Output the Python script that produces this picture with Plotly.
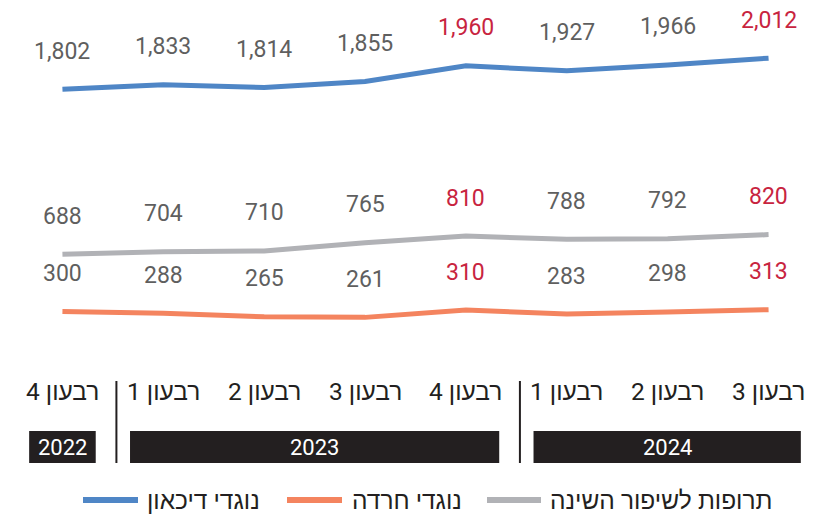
import plotly.graph_objects as go

quarters = ["רבעון 4", "רבעון 1", "רבעון 2", "רבעון 3", "רבעון 4", "רבעון 1", "רבעון 2", "רבעון 3"]
years = ["2022", "2023", "2023", "2023", "2023", "2024", "2024", "2024"]
antidepressants = [1802, 1833, 1814, 1855, 1960, 1927, 1966, 2012]
anxiolytics = [300, 288, 265, 261, 310, 283, 298, 313]
sleep_meds = [688, 704, 710, 765, 810, 788, 792, 820]
highlight = [False, False, False, False, True, False, False, True]

series = [
    ("נוגדי דיכאון", antidepressants, "#4f86c6"),
    ("נוגדי חרדה", anxiolytics, "#f4845f"),
    ("תרופות לשיפור השינה", sleep_meds, "#b1b2b6"),
]

FONT = "Roboto, Noto Sans, sans-serif"
GRAY_TXT = "#5f5f5f"
RED_TXT = "#c8243f"
DARK = "#231f20"

x = list(range(len(quarters)))
fig = go.Figure()
annotations = []
for name, vals, color in series:
    fig.add_trace(go.Scatter(x=x, y=vals, mode="lines", name=name,
                             line=dict(color=color, width=5), showlegend=False,
                             hoverinfo="skip"))
    for xi, v, h in zip(x, vals, highlight):
        annotations.append(dict(x=xi, y=v, xref="x", yref="y", text=f"{v:,}",
                                showarrow=False, yshift=38,
                                font=dict(family=FONT, size=23, color=RED_TXT if h else GRAY_TXT)))

# quarter labels
for xi, q in zip(x, quarters):
    annotations.append(dict(x=xi, y=(356 - 391) / 356, xref="x", yref="paper", text=q, showarrow=False,
                            font=dict(family=FONT, size=24.5, color=DARK), yanchor="middle"))

shapes = []
# year boxes
year_groups = []
for i, yv in enumerate(years):
    if not year_groups or year_groups[-1][0] != yv:
        year_groups.append([yv, i, i])
    else:
        year_groups[-1][2] = i
box_y0, box_y1 = (356 - 463) / 356, (356 - 431) / 356
for yv, i0, i1 in year_groups:
    x0, x1 = i0 - 0.33, i1 + 0.33
    if yv == "2024":
        x1 = i1 + 0.32
    shapes.append(dict(type="rect", xref="x", yref="paper", x0=x0, x1=x1, y0=box_y0, y1=box_y1,
                       fillcolor=DARK, line=dict(width=0)))
    annotations.append(dict(x=(x0 + x1) / 2, y=(box_y0 + box_y1) / 2, xref="x", yref="paper",
                            text=yv, showarrow=False, yanchor="middle",
                            font=dict(family=FONT, size=22, color="white")))
# separators
for k in range(1, len(year_groups)):
    sx = year_groups[k][1] - 0.465
    shapes.append(dict(type="line", xref="x", yref="paper", x0=sx, x1=sx,
                       y0=(356 - 463) / 356, y1=(356 - 381) / 356,
                       line=dict(color=DARK, width=2)))

# legend (manual)
leg_y = (356 - 500) / 356
leg_items = [(83, 138, 145), (287, 342, 350), (487, 541, 548)]
for (name, vals, color), (lx0, lx1, tx) in zip(series, leg_items):
    shapes.append(dict(type="line", xref="paper", yref="paper",
                       x0=(lx0 - 12) / 807, x1=(lx1 - 12) / 807, y0=leg_y, y1=leg_y,
                       line=dict(color=color, width=6)))
    annotations.append(dict(x=(tx - 12) / 807, y=leg_y, xref="paper", yref="paper", text=name,
                            showarrow=False, xanchor="left", yanchor="middle",
                            font=dict(family=FONT, size=24.5, color=DARK)))

fig.update_layout(
    width=823, height=518,
    margin=dict(l=12, r=4, t=0, b=162),
    paper_bgcolor="white", plot_bgcolor="white",
    xaxis=dict(range=[-0.5, 7.5], visible=False, fixedrange=True),
    yaxis=dict(range=[0, 2405], visible=False, fixedrange=True),
    annotations=annotations, shapes=shapes,
)
fig.write_html("out.html", config={"displayModeBar": False},
               post_script="document.body.style.margin='0';")
